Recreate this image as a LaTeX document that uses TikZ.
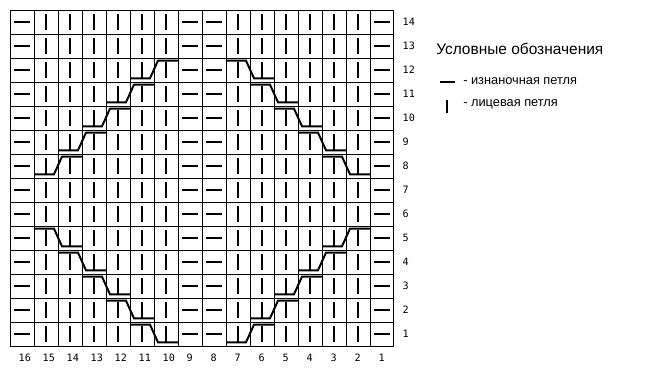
\documentclass[tikz,border=0pt]{standalone}
\usepackage{fontspec}
\setmainfont{Liberation Sans}
\newfontfamily\chartfont{DejaVu Sans Mono}
\usetikzlibrary{positioning}

\begin{document}
\begin{tikzpicture}[
    x=0.6cm, y=0.6cm,
    gridline/.style={line width=0.7pt, black},
    purl/.style={line width=1.6pt, black},
    knit/.style={line width=1.9pt, black},
    cable/.style={line width=1.4pt, black},
    num/.style={font=\chartfont\fontsize{7.2}{8}\selectfont, inner sep=0pt, anchor=west},
    legtitle/.style={font=\fontsize{11}{13}\selectfont, anchor=west, inner sep=0pt},
    legtext/.style={font=\fontsize{9.1}{11}\selectfont, anchor=west, inner sep=0pt},
]
\useasboundingbox (-0.4167,-1.5833) rectangle (27.4167,14.4167);
\draw[gridline, step={(1,1)}] (0,0) grid (16,14);

\foreach \r in {1,...,14} {
  \foreach \i in {0,7,8,15}
    \draw[purl] (\i+0.167,\r-0.5) -- ++(0.667,0);
  \foreach \i in {1,2,3,4,5,6,9,10,11,12,13,14}
    \draw[knit] (\i+0.5,\r-0.833) -- ++(0,0.667);
  \node[num] (row\r) at (16.35,\r-0.5) {\r};
}
\foreach \c in {1,...,16}
  \node[num] (col\c) at (16-\c+0.35,-0.48) {\c};

\foreach \r in {8,...,12} {
  \draw[cable] (\r-7,\r-0.846) -- ++(0.833,0) -- ++(0.333,0.736) -- ++(0.833,0);
  \draw[cable] (21-\r,\r-0.11) -- ++(0.833,0) -- ++(0.333,-0.736) -- ++(0.833,0);
}
\foreach \r in {1,...,5} {
  \draw[cable] (6-\r,\r-0.11) -- ++(0.833,0) -- ++(0.333,-0.736) -- ++(0.833,0);
  \draw[cable] (8+\r,\r-0.846) -- ++(0.833,0) -- ++(0.333,0.736) -- ++(0.833,0);
}

\node[legtitle] (legend) at (17.75,12.375) {Условные обозначения};
\node[legtext] (purltext) at (18.875,11.02) {- изнаночная петля};
\node[legtext] (knittext) at (18.875,10.08) {- лицевая петля};
\draw[purl] (17.917,11.01) -- (18.542,11.01);
\draw[knit] (18.21,9.71) -- ++(0,0.54);
\end{tikzpicture}
\end{document}
